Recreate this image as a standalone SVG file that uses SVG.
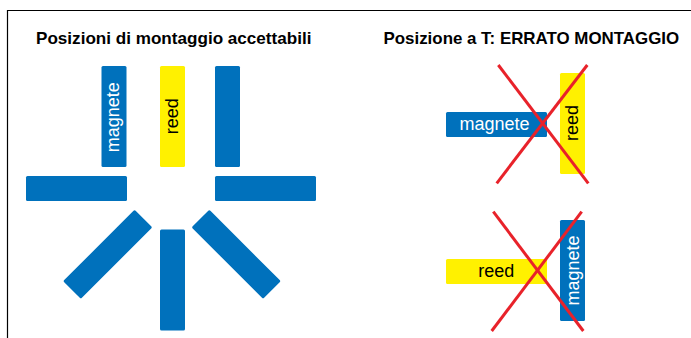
<svg xmlns="http://www.w3.org/2000/svg" width="691" height="338" viewBox="0 0 691 338">
<style>
.mag{fill:#0071BC}
.reed{fill:#FFF100}
.t{font-family:"Liberation Sans",Arial,sans-serif;font-size:18px}
.w{fill:#FFFFFF}
.k{fill:#000000}
.title{font-family:"Liberation Sans",Arial,sans-serif;font-size:16.8px;font-weight:bold;fill:#000}
.x{stroke:#E8222A;stroke-width:3;fill:none}
</style>
<rect width="691" height="338" fill="#fff"/>
<path d="M7.5 338 V10.5 H691" fill="none" stroke="#000" stroke-width="1.2"/>
<text class="title" x="36" y="44" style="font-size:17.1px">Posizioni di montaggio accettabili</text>
<text class="title" x="383.5" y="44" style="font-size:16.9px">Posizione a T: ERRATO MONTAGGIO</text>

<g id="left-magnete">
<rect class="mag" x="101.5" y="66" width="25" height="101" rx="1.5"/>
<text class="t w" text-anchor="middle" transform="translate(118.7 117.2) rotate(-90)">magnete</text>
</g>
<g id="left-reed">
<rect class="reed" x="160" y="66" width="25" height="101" rx="1.5"/>
<text class="t k" text-anchor="middle" transform="translate(178 116.2) rotate(-90)">reed</text>
</g>
<g id="pos-vert-right"><rect class="mag" x="215" y="66" width="25" height="101" rx="1.5"/></g>
<g id="pos-horiz-left"><rect class="mag" x="26" y="176" width="101" height="25" rx="1.5"/></g>
<g id="pos-horiz-right"><rect class="mag" x="215" y="176" width="101" height="25" rx="1.5"/></g>
<g id="pos-vert-bottom"><rect class="mag" x="160" y="229.5" width="25" height="101" rx="1.5"/></g>
<g id="pos-diag-left"><rect class="mag" x="-50.5" y="-12.5" width="101" height="25" rx="1.5" transform="translate(107.7 254.3) rotate(-45)"/></g>
<g id="pos-diag-right"><rect class="mag" x="-50.5" y="-12.5" width="101" height="25" rx="1.5" transform="translate(236.2 254.3) rotate(45)"/></g>

<g id="wrong-top-magnete">
<rect class="mag" x="446" y="112" width="101" height="25" rx="1.5"/>
<text class="t w" text-anchor="middle" x="494.5" y="130">magnete</text>
</g>
<g id="wrong-top-reed">
<rect class="reed" x="560" y="73" width="25" height="101" rx="1.5"/>
<text class="t k" text-anchor="middle" transform="translate(577.8 123) rotate(-90)">reed</text>
</g>
<g id="wrong-bottom-reed">
<rect class="reed" x="446" y="259" width="101" height="25" rx="1.5"/>
<text class="t k" text-anchor="middle" x="496.3" y="276.5">reed</text>
</g>
<g id="wrong-bottom-magnete">
<rect class="mag" x="560" y="220" width="25" height="101" rx="1.5"/>
<text class="t w" text-anchor="middle" transform="translate(578.5 270.5) rotate(-90)">magnete</text>
</g>

<g id="crosses">
<line class="x" x1="498.3" y1="65" x2="588.3" y2="183.3"/>
<line class="x" x1="587.3" y1="65" x2="496.7" y2="183.3"/>
<line class="x" x1="493.3" y1="211.7" x2="583.3" y2="331"/>
<line class="x" x1="581.7" y1="211.7" x2="491.7" y2="331"/>
</g>
</svg>
